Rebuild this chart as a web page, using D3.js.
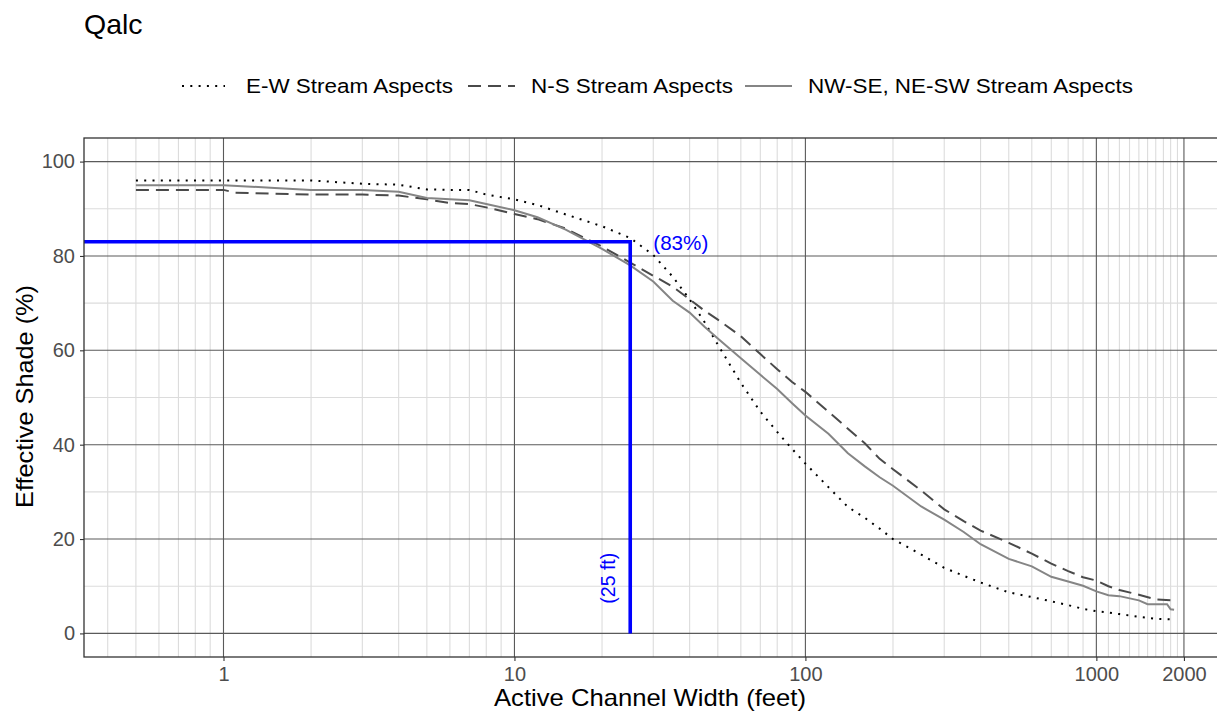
<!DOCTYPE html>
<html>
<head>
<meta charset="utf-8">
<script src="https://cdn.jsdelivr.net/npm/d3@7"></script>
<style>
  html, body { margin: 0; padding: 0; background: #fff; }
  svg { display: block; font-family: "Liberation Sans", Arial, sans-serif; }
</style>
</head>
<body>
<svg id="chart" width="1217" height="713"></svg>
<script>
// ---------------- DATA ----------------
const chartTitle = "Qalc";
const xTitle = "Active Channel Width (feet)";
const yTitle = "Effective Shade (%)";
const seriesNames = ["E-W Stream Aspects", "N-S Stream Aspects", "NW-SE, NE-SW Stream Aspects"];

const widthsEW = [0.5, 1, 2, 3, 4, 5, 6, 7, 8, 10, 12, 15, 20, 25, 30, 35, 40, 45, 50, 60, 70, 80, 90, 100, 120, 140, 160, 180, 200, 250, 300, 350, 400, 500, 600, 700, 800, 900, 1000, 1100, 1200, 1400, 1600, 1800, 1850];
const shadeEW  = [96, 96, 96, 95.3, 95.1, 94.1, 94, 94, 93, 92, 90.8, 88.8, 86.3, 83.8, 80.2, 75.6, 70.8, 66, 61.2, 53.1, 47, 42.7, 39.1, 36, 31, 26.8, 24.5, 22.2, 20, 16.7, 13.9, 12.2, 10.8, 8.7, 7.7, 6.8, 6, 5.2, 4.7, 4.4, 4.1, 3.5, 3.1, 3, 3];

const widthsNS = [0.5, 1, 1.1, 2, 3, 4, 5, 6, 7, 8, 10, 12, 15, 20, 25, 30, 35, 40, 45, 50, 60, 70, 80, 90, 100, 120, 140, 160, 180, 200, 250, 300, 350, 400, 500, 600, 700, 800, 900, 1000, 1100, 1200, 1400, 1600, 1800, 1850];
const shadeNS  = [94, 94, 93.4, 93, 93, 92.8, 92, 91.2, 91, 90.3, 88.9, 87.8, 85.8, 82, 78.6, 75.8, 73.5, 70.8, 68.4, 66.5, 63, 59.2, 56, 53.3, 51.2, 47, 43.4, 40.3, 37, 34.8, 30.3, 26.3, 23.8, 21.8, 19.2, 16.9, 14.8, 13.2, 11.9, 11.2, 10, 9.2, 8.2, 7.2, 7, 7];

const widthsNW = [0.5, 1, 1.5, 2, 3, 4, 5, 6, 7, 8, 10, 12, 15, 20, 25, 30, 35, 40, 45, 50, 60, 70, 80, 90, 100, 120, 140, 160, 180, 200, 250, 300, 350, 400, 500, 600, 700, 800, 900, 1000, 1100, 1200, 1400, 1500, 1600, 1750, 1800, 1850];
const shadeNW  = [95, 95, 94.4, 94, 94, 93.6, 92.3, 92, 91.8, 91, 89.7, 88.2, 85.6, 81.5, 78, 74.6, 70.5, 68, 65, 62.5, 58.3, 54.8, 51.8, 48.8, 46.2, 42.3, 38.2, 35.4, 33.1, 31.3, 26.9, 24.1, 21.5, 18.9, 15.8, 14.2, 12, 11, 10.1, 8.9, 8.1, 7.9, 7, 6.2, 6.2, 6.2, 5.1, 5];

const xMajorTicks = [1, 10, 100, 1000, 2000];
const xMajorLabels = ["1", "10", "100", "1000", "2000"];
const xMinorTicks = [0.4, 0.5, 0.6, 0.7, 0.8, 0.9, 2, 3, 4, 5, 6, 7, 8, 9, 20, 30, 40, 50, 60, 70, 80, 90,
                     200, 300, 400, 500, 600, 700, 800, 900, 1100, 1200, 1300, 1400, 1500, 1600, 1700, 1800, 1900];
const yMajorTicks = [0, 20, 40, 60, 80, 100];
const yMinorTicks = [10, 30, 50, 70, 90];
const yDomain = [-5, 105];

const refShade = 83;      // horizontal reference
const refWidth = 25;      // vertical reference
const shadeLabel = "(83%)";
const shadeLabelPos = [30, 83];
const widthLabel = "(25 ft)";
const widthLabelPos = [20.9, 11.7];

// ---------------- LAYOUT ----------------
const svg = d3.select("#chart");
const panel = { left: 84, top: 138, right: 1226, bottom: 657 };

const allW = widthsEW.concat(widthsNS, widthsNW);
const lo = Math.log10(d3.min(allW)), hi = Math.log10(d3.max(allW));
const pad = (hi - lo) * 0.05;
const x = d3.scaleLog().domain([Math.pow(10, lo - pad), Math.pow(10, hi + pad)]).range([panel.left, panel.right]);
const y = d3.scaleLinear().domain(yDomain).range([panel.bottom, panel.top]);

svg.append("defs").append("clipPath").attr("id", "clip")
  .append("rect").attr("x", panel.left).attr("y", panel.top)
  .attr("width", panel.right - panel.left).attr("height", panel.bottom - panel.top);

// grid
const grid = svg.append("g");
grid.selectAll("line.xminor").data(xMinorTicks).enter().append("line")
  .attr("x1", d => x(d)).attr("x2", d => x(d)).attr("y1", panel.top).attr("y2", panel.bottom)
  .attr("stroke", "#dcdcdc").attr("stroke-width", 1.1);
grid.selectAll("line.yminor").data(yMinorTicks).enter().append("line")
  .attr("x1", panel.left).attr("x2", panel.right).attr("y1", d => y(d)).attr("y2", d => y(d))
  .attr("stroke", "#dcdcdc").attr("stroke-width", 1.1);
grid.selectAll("line.xmajor").data(xMajorTicks).enter().append("line")
  .attr("x1", d => x(d)).attr("x2", d => x(d)).attr("y1", panel.top).attr("y2", panel.bottom)
  .attr("stroke", "#5a5a5a").attr("stroke-width", 1.1);
grid.selectAll("line.ymajor").data(yMajorTicks).enter().append("line")
  .attr("x1", panel.left).attr("x2", panel.right).attr("y1", d => y(d)).attr("y2", d => y(d))
  .attr("stroke", "#5a5a5a").attr("stroke-width", 1.1);

// axes (ticks + labels)
const xAxis = d3.axisBottom(x).tickValues(xMajorTicks)
  .tickFormat((d, i) => xMajorLabels[i]).tickSize(4).tickPadding(6);
const gx = svg.append("g").attr("transform", `translate(0,${panel.bottom})`).call(xAxis);
gx.select(".domain").remove();
gx.selectAll(".tick line").attr("stroke", "#333").attr("stroke-width", 1.1);
gx.selectAll(".tick text").attr("fill", "#4d4d4d").style("font-size", "20px")
  .style("font-family", "Liberation Sans, Arial, sans-serif");

const yAxis = d3.axisLeft(y).tickValues(yMajorTicks).tickSize(4).tickPadding(5);
const gy = svg.append("g").attr("transform", `translate(${panel.left},0)`).call(yAxis);
gy.select(".domain").remove();
gy.selectAll(".tick line").attr("stroke", "#333").attr("stroke-width", 1.1);
gy.selectAll(".tick text").attr("fill", "#4d4d4d").style("font-size", "20px")
  .style("font-family", "Liberation Sans, Arial, sans-serif");

// data lines
const plot = svg.append("g").attr("clip-path", "url(#clip)");
const line = d3.line().x(d => x(d[0])).y(d => y(d[1]));
const styles = [
  { stroke: "#000000", width: 2, dash: "2,6.3" },
  { stroke: "#4a4a4a", width: 2, dash: "13,7" },
  { stroke: "#858585", width: 2, dash: null }
];
const seriesData = [
  d3.zip(widthsEW, shadeEW),
  d3.zip(widthsNS, shadeNS),
  d3.zip(widthsNW, shadeNW)
];
seriesData.forEach((pts, i) => {
  plot.append("path").datum(pts).attr("d", line)
    .attr("fill", "none").attr("stroke", styles[i].stroke)
    .attr("stroke-width", styles[i].width)
    .attr("stroke-dasharray", styles[i].dash);
});

// reference lines (blue)
const xMin = x.domain()[0];
plot.append("path")
  .datum([[xMin, refShade], [refWidth, refShade], [refWidth, 0]])
  .attr("d", line).attr("fill", "none").attr("stroke", "#0000ff")
  .attr("stroke-width", 3.6).attr("stroke-linejoin", "miter");

svg.append("text").attr("x", x(shadeLabelPos[0])).attr("y", y(shadeLabelPos[1]) + 1)
  .attr("dominant-baseline", "central").attr("fill", "#0000ff")
  .style("font-size", "20px").attr("textLength", 55).attr("lengthAdjust", "spacingAndGlyphs")
  .text(shadeLabel);

svg.append("text")
  .attr("transform", `translate(${x(widthLabelPos[0])},${y(widthLabelPos[1])}) rotate(-90)`)
  .attr("text-anchor", "middle").attr("dominant-baseline", "central")
  .attr("fill", "#0000ff").style("font-size", "19.5px").text(widthLabel);

// panel border
svg.append("rect").attr("x", panel.left).attr("y", panel.top)
  .attr("width", panel.right - panel.left).attr("height", panel.bottom - panel.top)
  .attr("fill", "none").attr("stroke", "#333").attr("stroke-width", 1.3);

// titles
svg.append("text").attr("x", panel.left).attr("y", 34).style("font-size", "28.5px")
  .attr("fill", "#000").text(chartTitle);

svg.append("text").attr("x", (panel.left + 1226) / 2 - 5).attr("y", 706)
  .attr("text-anchor", "middle").style("font-size", "24px").attr("fill", "#000")
  .attr("textLength", 312).attr("lengthAdjust", "spacingAndGlyphs").text(xTitle);

svg.append("text")
  .attr("transform", `translate(33,${(panel.top + panel.bottom) / 2 - 1}) rotate(-90)`)
  .attr("text-anchor", "middle").style("font-size", "24px").attr("fill", "#000")
  .attr("textLength", 223).attr("lengthAdjust", "spacingAndGlyphs").text(yTitle);

// legend
const legendKeyX = [182, 468, 745];
const legendTextX = [246, 531, 808];
const legendTextW = [207, 202, 325];
const legendY = 86;
const lg = svg.append("g");
seriesNames.forEach((name, i) => {
  lg.append("line").attr("x1", legendKeyX[i]).attr("x2", legendKeyX[i] + (i === 0 ? 43 : 47))
    .attr("y1", legendY).attr("y2", legendY)
    .attr("stroke", styles[i].stroke).attr("stroke-width", styles[i].width)
    .attr("stroke-dasharray", styles[i].dash);
  lg.append("text").attr("x", legendTextX[i]).attr("y", legendY + 7)
    .style("font-size", "20.5px").attr("fill", "#000")
    .attr("textLength", legendTextW[i]).attr("lengthAdjust", "spacingAndGlyphs")
    .text(name);
});
</script>
</body>
</html>
